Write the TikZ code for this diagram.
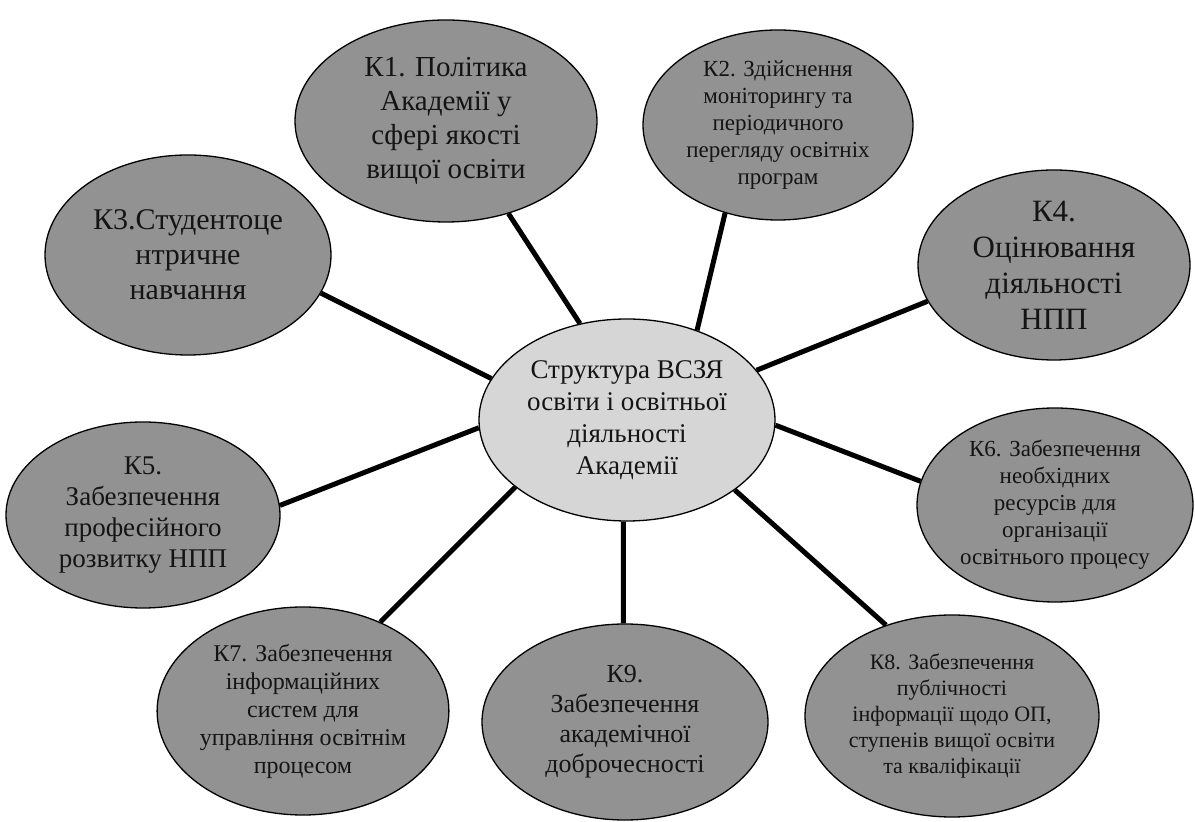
\documentclass[tikz,border=0pt]{standalone}
\usepackage{fontspec}
\setmainfont{Liberation Serif}
\usetikzlibrary{shapes.geometric,backgrounds}
\definecolor{outerfill}{RGB}{146,146,146}
\definecolor{centerfill}{RGB}{214,214,214}
\definecolor{txt}{RGB}{20,20,20}
\tikzset{
  bubble/.style={ellipse,draw=black,line width=1.3pt,fill=outerfill,inner sep=0pt,align=center,text=txt},
  hub/.style={bubble,fill=centerfill},
  spoke/.style={line width=5pt,black},
}
\newcommand{\fsz}[2]{\fontsize{#1}{#2}\selectfont}
\begin{document}
\begin{tikzpicture}[x=1pt,y=1pt]
\useasboundingbox (0,0) rectangle (1195,822);
\node[hub,minimum width=296pt,minimum height=202pt,font=\fsz{27}{32}] (c) at (627,402)
  {Структура ВСЗЯ\\освіти і освітньої\\діяльності\\Академії};
\node[bubble,minimum width=302pt,minimum height=202pt,font=\fsz{29}{34}] (k1) at (446,701)
  {К1. Політика\\Академії у\\сфері якості\\вищої освіти};
\node[bubble,minimum width=270pt,minimum height=190pt,font=\fsz{23}{27}] (k2) at (778,697)
  {К2. Здійснення\\моніторингу та\\періодичного\\перегляду освітніх\\програм};
\node[bubble,minimum width=286pt,minimum height=200pt,font=\fsz{30}{35}] (k3) at (188,567)
  {К3.Студентоце\\нтричне\\навчання};
\node[bubble,minimum width=272pt,minimum height=190pt,font=\fsz{31}{36}] (k4) at (1054,557)
  {К4.\\Оцінювання\\діяльності\\НПП};
\node[bubble,minimum width=274pt,minimum height=186pt,font=\fsz{27}{31}] (k5) at (143,307)
  {К5.\\Забезпечення\\професійного\\розвитку НПП};
\node[bubble,minimum width=276pt,minimum height=194pt,font=\fsz{23}{27}] (k6) at (1055,317)
  {К6. Забезпечення\\необхідних\\ресурсів для\\організації\\освітнього процесу};
\node[bubble,minimum width=280pt,minimum height=208pt,font=\fsz{24}{28}] (k7) at (303,111)
  {К7. Забезпечення\\інформаційних\\систем для\\управління освітнім\\процесом};
\node[bubble,minimum width=286pt,minimum height=196pt,font=\fsz{26}{30}] (k9) at (625,100)
  {К9.\\Забезпечення\\академічної\\доброчесності};
\node[bubble,minimum width=294pt,minimum height=202pt,font=\fsz{22}{26}] (k8) at (952,106)
  {К8. Забезпечення\\публічності\\інформації щодо ОП,\\ступенів вищої освіти\\та кваліфікації};
\begin{scope}[on background layer]
\fill[white] (0,0) rectangle (1195,822);
\draw[spoke] (c.116.1) -- (k1.-56.6);
\draw[spoke] (c.52.1) -- (k2.-121.1);
\draw[spoke] (c.163.3) -- (k3.-16.3);
\draw[spoke] (c.21.0) -- (k4.196.2);
\draw[spoke] (c.183.1) -- (k5.4.1);
\draw[spoke] (c.-2.0) -- (k6.170.0);
\draw[spoke] (c.211.3) -- (k7.49.9);
\draw[spoke] (c.-92.9) -- (k9.91.8);
\draw[spoke] (c.-33.6) -- (k8.126.7);
\end{scope}
\end{tikzpicture}
\end{document}
